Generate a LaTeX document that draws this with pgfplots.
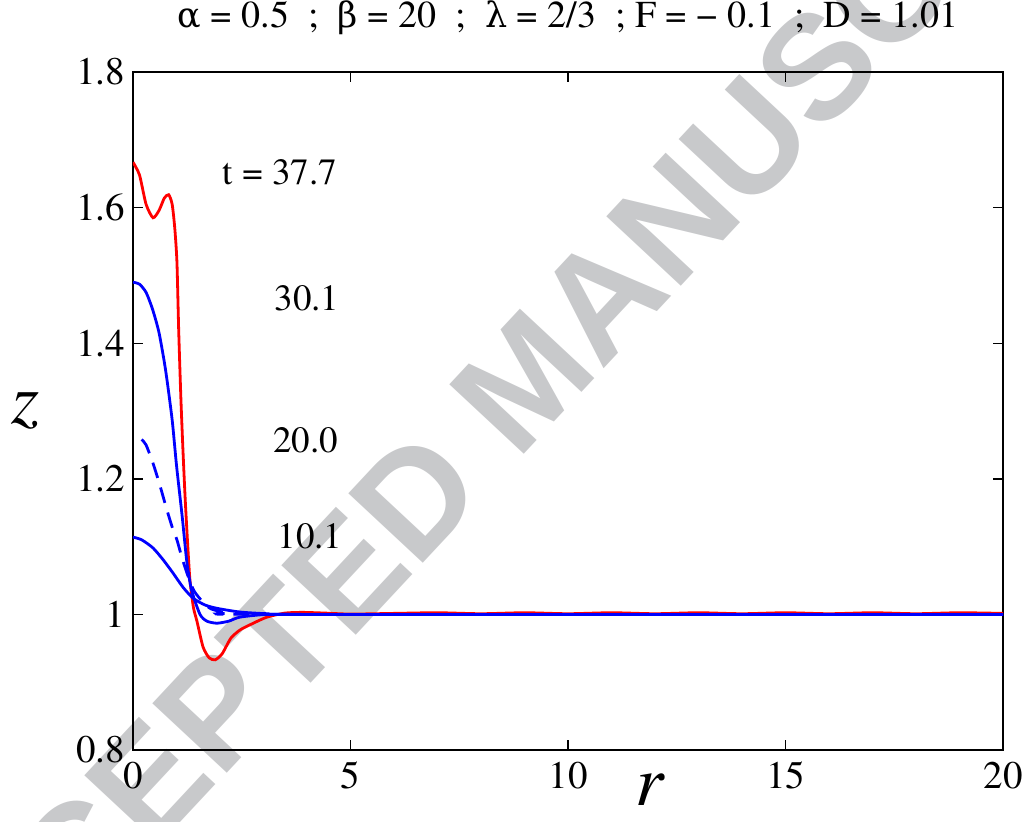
\documentclass[border=0pt]{standalone}
\usepackage{pgfplots}
\pgfplotsset{compat=1.18}
\usepackage{fontspec}
\setmainfont{TeX Gyre Termes}
\newfontfamily\tnr{TeX Gyre Termes}
\newfontfamily\grk[Scale=0.92]{DejaVu Serif}
\newfontfamily\wmfont{Liberation Sans}
\definecolor{wmgray}{RGB}{200,201,203}

\begin{document}
\begin{tikzpicture}[x=1pt,y=1pt]
\useasboundingbox (-66.5,-35.5) rectangle (447.5,375);
% watermark behind the axis
\node[rotate=47, text=wmgray, font=\wmfont\bfseries\fontsize{74}{74}\selectfont] at (196,185.5) {ACCEPTED MANUSCRIPT};
\begin{axis}[
  at={(0,0)}, anchor=south west,
  width=435pt, height=339pt, scale only axis,
  xmin=0, xmax=20, ymin=0.8, ymax=1.8,
  xtick={0,5,10,15,20}, xticklabels={0,5,10,15,20},
  ytick={0.8,1,1.2,1.4,1.6,1.8}, yticklabels={0.8,1,1.2,1.4,1.6,1.8},
  tick align=inside, tick pos=both, major tick length=5pt,
  every tick/.style={black, line width=0.7pt},
  axis line style={line width=1pt},
  tick label style={font=\tnr\fontsize{19.5}{19.5}\selectfont},
  xticklabel style={yshift=-2.5pt},
  yticklabel style={xshift=-0.5pt},
  title={{\grk α} = 0.5 \ ; \ {\grk β} = 20 \ ; \ {\grk λ} = 2/3 \ ; F = − 0.1 \ ; \ D = 1.01},
  title style={at={(axis description cs:0.5,1.062)}, anchor=center, font=\tnr\fontsize{19}{19}\selectfont},
  xlabel={r}, ylabel={z},
  xlabel style={at={(axis description cs:0.594,-0.059)}, anchor=center, font=\tnr\fontsize{36}{36}\selectfont\itshape},
  ylabel style={at={(axis description cs:-0.124,0.5)}, anchor=center, rotate=-90, font=\tnr\fontsize{36}{36}\selectfont\itshape},
]
% t = 37.7
\addplot[red, line width=1.4pt, smooth, tension=0.4] coordinates {
 (0,1.667) (0.15,1.648) (0.3,1.605) (0.46,1.585) (0.6,1.596) (0.72,1.614) (0.82,1.619)
 (0.9,1.605) (0.96,1.57) (1.01,1.52) (1.05,1.42) (1.10,1.32) (1.15,1.24) (1.20,1.17)
 (1.26,1.10) (1.31,1.05) (1.39,1.01) (1.47,0.99) (1.61,0.952) (1.75,0.936) (1.89,0.933)
 (2.05,0.942) (2.25,0.965) (2.46,0.977) (2.7,0.985) (3.08,0.996) (3.5,1.002) (3.9,1.003)
 (4.4,1.002) (5,1.0005) (6,1.0015) (7,1.0025) (8,1.001) (9,1.0025) (10,1.001)
 (11,1.0025) (12,1.001) (13,1.0025) (14,1.001) (15,1.0025) (16,1.001) (17,1.0025)
 (18,1.001) (19,1.0025) (20,1.0015)
};
% t = 30.1
\addplot[blue, line width=1.4pt, smooth, tension=0.4] coordinates {
 (0,1.490) (0.15,1.487) (0.3,1.475) (0.45,1.45) (0.6,1.415) (0.75,1.36) (0.9,1.287)
 (1.0,1.22) (1.13,1.145) (1.24,1.076) (1.35,1.035) (1.54,1.0) (1.7,0.99) (1.93,0.987)
 (2.2,0.99) (2.46,0.996) (3.08,1.0) (4,1.0) (20,1.0)
};
% t = 20.0
\addplot[blue, line width=1.4pt, dash pattern=on 8pt off 5pt, smooth, tension=0.4] coordinates {
 (0.2,1.258) (0.3,1.25) (0.46,1.223) (0.62,1.19) (0.78,1.154) (0.92,1.125) (1.01,1.11)
 (1.12,1.085) (1.24,1.061) (1.4,1.035) (1.61,1.018) (1.8,1.008) (2.2,1.002) (3,1.0) (20,1.0)
};
% t = 10.1
\addplot[blue, line width=1.4pt, smooth, tension=0.4] coordinates {
 (0,1.114) (0.2,1.110) (0.46,1.098) (0.7,1.08) (0.92,1.061) (1.15,1.04) (1.38,1.024)
 (1.65,1.014) (1.93,1.009) (2.46,1.0035) (3.1,1.001) (4,1.0) (20,1.0)
};
\node[font=\tnr\fontsize{18.5}{18.5}\selectfont] at (axis cs:3.38,1.652) {t = 37.7};
\node[font=\tnr\fontsize{18.5}{18.5}\selectfont] at (axis cs:4.0,1.467) {30.1};
\node[font=\tnr\fontsize{18.5}{18.5}\selectfont] at (axis cs:3.97,1.257) {20.0};
\node[font=\tnr\fontsize{18.5}{18.5}\selectfont] at (axis cs:4.07,1.116) {10.1};
\end{axis}
\end{tikzpicture}
\end{document}
